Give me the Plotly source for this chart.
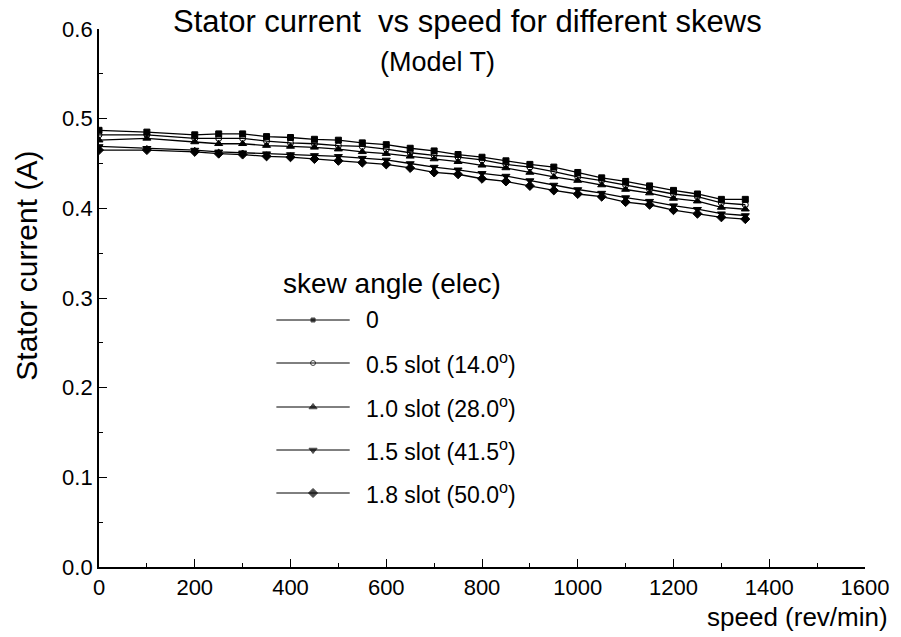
import plotly.graph_objects as go

# Rotor speed (rev/min)
speed = [0, 100, 200, 250, 300, 350, 400, 450, 500, 550, 600, 650, 700, 750,
         800, 850, 900, 950, 1000, 1050, 1100, 1150, 1200, 1250, 1300, 1350]

# Stator current (A) for each skew angle
i_skew_0 = [0.487, 0.485, 0.482, 0.483, 0.483, 0.480, 0.479, 0.477, 0.476, 0.473, 0.471, 0.467, 0.464,
            0.460, 0.457, 0.453, 0.449, 0.446, 0.440, 0.434, 0.430, 0.425, 0.420, 0.416, 0.410, 0.410]
i_skew_05 = [0.482, 0.482, 0.478, 0.478, 0.478, 0.475, 0.473, 0.472, 0.470, 0.469, 0.466, 0.462, 0.459,
             0.457, 0.454, 0.449, 0.446, 0.441, 0.435, 0.431, 0.426, 0.421, 0.416, 0.413, 0.406, 0.404]
i_skew_10 = [0.476, 0.478, 0.474, 0.472, 0.472, 0.470, 0.469, 0.468, 0.466, 0.463, 0.461, 0.458, 0.455,
             0.452, 0.448, 0.445, 0.440, 0.435, 0.431, 0.426, 0.421, 0.417, 0.411, 0.408, 0.401, 0.399]
i_skew_15 = [0.469, 0.467, 0.465, 0.463, 0.462, 0.461, 0.460, 0.459, 0.458, 0.456, 0.454, 0.450, 0.446,
             0.443, 0.439, 0.436, 0.431, 0.426, 0.421, 0.417, 0.412, 0.408, 0.403, 0.399, 0.394, 0.392]
i_skew_18 = [0.465, 0.465, 0.463, 0.461, 0.460, 0.458, 0.457, 0.455, 0.453, 0.451, 0.449, 0.445, 0.440,
             0.438, 0.433, 0.430, 0.425, 0.420, 0.416, 0.413, 0.407, 0.404, 0.398, 0.394, 0.390, 0.388]

series_labels = ["0", "0.5 slot (14.0<sup>o</sup>)", "1.0 slot (28.0<sup>o</sup>)",
                 "1.5 slot (41.5<sup>o</sup>)", "1.8 slot (50.0<sup>o</sup>)"]
series_values = [i_skew_0, i_skew_05, i_skew_10, i_skew_15, i_skew_18]
symbols = ["square", "circle-open", "triangle-up", "triangle-down", "diamond"]
data_marker_sizes = [6, 6, 7, 7, 7]
legend_marker_sizes = [4, 5, 7, 7, 7]

FONT = "Liberation Sans, Arial, sans-serif"
W, H = 901, 637
L, R, T, B = 99, 872, 29, 567   # plot-area edges in pixels

fig = go.Figure()

for vals, sym, ms in zip(series_values, symbols, data_marker_sizes):
    fig.add_trace(go.Scatter(
        x=speed, y=vals, mode="lines+markers",
        line=dict(color="black", width=1.3),
        marker=dict(symbol=sym, size=ms, color="black",
                    line=dict(color="black", width=1)),
        showlegend=False, hoverinfo="skip", xaxis="x", yaxis="y"))

# Hand-drawn key on an overlay axis that uses pixel coordinates
row_y = [320, 363, 407, 450, 493]
key_x0, key_xm, key_x1, key_text_x = 278, 315, 352, 367
for yy, sym, ms in zip(row_y, symbols, legend_marker_sizes):
    fig.add_trace(go.Scatter(
        x=[key_x0, key_xm, key_x1], y=[yy, yy, yy], mode="lines+markers",
        line=dict(color="black", width=1.0),
        marker=dict(symbol=sym, size=[0, ms, 0], color="black",
                    line=dict(color="black", width=1)),
        showlegend=False, hoverinfo="skip", xaxis="x2", yaxis="y2"))


def label(text, px, py, size, xanchor="left", angle=0):
    # px, py are pixel positions in the figure; convert to plot-area paper units
    return dict(text=text, x=(px - L) / (R - L), y=(B - py) / (B - T),
                xref="paper", yref="paper", xanchor=xanchor, borderpad=0,
                yanchor="middle", showarrow=False, textangle=angle,
                font=dict(size=size, family=FONT, color="black"))


annotations = [label("skew angle (elec)", 284, 283, 28)]
for yy, lab in zip(row_y, series_labels):
    annotations.append(label(lab, key_text_x, yy, 23))

annotations += [
    label("Stator current  vs speed for different skews", 471, 22, 31, xanchor="center"),
    label("(Model T)", 441, 62, 27, xanchor="center"),
    label("speed (rev/min)", 896, 617, 26, xanchor="right"),
    label("Stator current (A)", 25, 266, 30, xanchor="center", angle=-90),
]

fig.update_layout(
    width=W, height=H,
    margin=dict(l=L, r=W - R, t=T, b=H - B, pad=0),
    paper_bgcolor="white", plot_bgcolor="white",
    font=dict(family=FONT, color="black", size=22),
    showlegend=False,
    annotations=annotations,
    xaxis=dict(range=[0, 1600], tick0=0, dtick=200, ticks="inside", ticklen=8,
               tickwidth=1.3, tickcolor="black", showline=True, linecolor="black",
               linewidth=1.8, showgrid=False, zeroline=False,
               minor=dict(ticks="inside", ticklen=4, dtick=100, tickcolor="black", tickwidth=1.2),
               tickfont=dict(size=22, family=FONT, color="black")),
    yaxis=dict(range=[0, 0.6], tick0=0, dtick=0.1, tickformat=".1f", ticks="inside",
               ticklen=8, tickwidth=1.3, tickcolor="black", showline=True,
               linecolor="black", linewidth=1.8, showgrid=False, zeroline=False,
               minor=dict(ticks="inside", ticklen=4, dtick=0.05, tickcolor="black", tickwidth=1.2),
               tickfont=dict(size=22, family=FONT, color="black")),
    xaxis2=dict(range=[L, R], domain=[0, 1], overlaying="x", visible=False, fixedrange=True),
    yaxis2=dict(range=[B, T], domain=[0, 1], overlaying="y", anchor="x2", visible=False, fixedrange=True),
)

fig.write_html("out.html")
